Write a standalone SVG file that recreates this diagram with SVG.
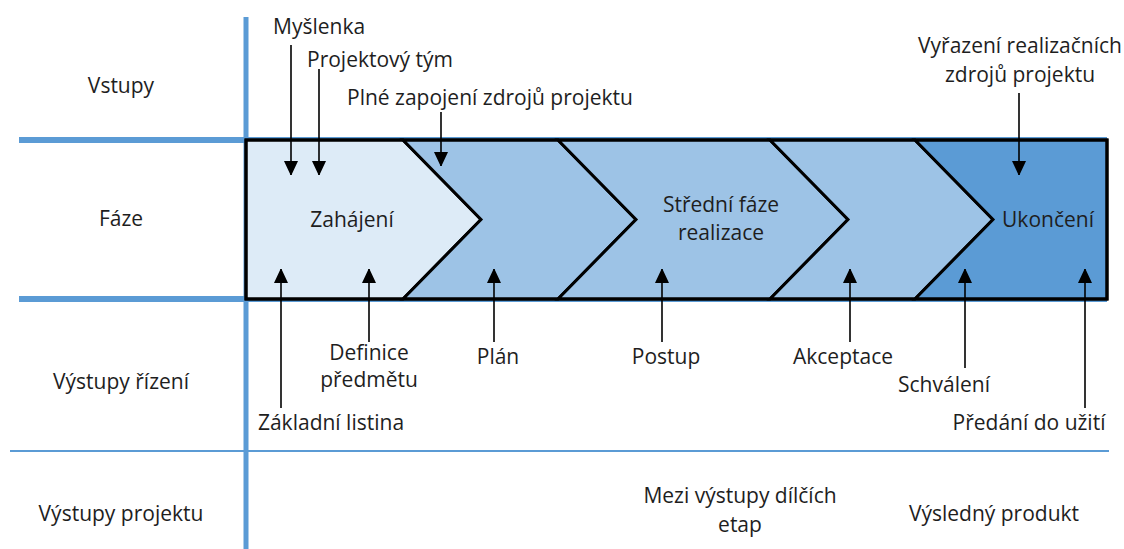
<svg xmlns="http://www.w3.org/2000/svg" width="1124" height="549" viewBox="0 0 1124 549">
  <defs>
    <marker id="arrow" markerUnits="userSpaceOnUse" markerWidth="14" markerHeight="16" viewBox="0 0 14 16" refX="14" refY="7" orient="auto">
      <path d="M0,0 L15,7 L0,14 Z" fill="#000"/>
    </marker>
  </defs>
  <style>
    text { font-family: "Open Sans", "Liberation Sans", sans-serif; font-size: 21px; fill: #1e1e1e; }
    .mid { text-anchor: middle; }
    .grid { stroke: #5b9bd5; fill: none; }
    .phase { stroke: #000; stroke-width: 3; stroke-linejoin: miter; }
    .p1 { fill: #ddebf7; }
    .p2 { fill: #9dc3e6; }
    .p3 { fill: #5b9bd5; }
    .conn { stroke: #000; stroke-width: 1.6; fill: none; }
    .in { marker-end: url(#arrow); }
  </style>

  <!-- table grid -->
  <g id="grid">
    <line class="grid" x1="19" y1="140" x2="1107" y2="140" stroke-width="6"/>
    <line class="grid" x1="19" y1="299" x2="1107" y2="299" stroke-width="6"/>
    <line class="grid" x1="10" y1="451" x2="1109" y2="451" stroke-width="2"/>
    <line class="grid" x1="246" y1="17" x2="246" y2="549" stroke-width="5"/>
  </g>

  <!-- row headers -->
  <g id="rows">
    <text class="mid" x="121" y="93">Vstupy</text>
    <text class="mid" x="121" y="226">Fáze</text>
    <text class="mid" x="121" y="389">Výstupy řízení</text>
    <text class="mid" x="121" y="521">Výstupy projektu</text>
  </g>

  <!-- project phases -->
  <g id="phase-zahajeni">
    <polygon class="phase p1" points="246,140 403,140 481,219.5 403,299 246,299"/>
    <text class="mid" x="352" y="227">Zahájení</text>
  </g>
  <g id="phase-plan">
    <polygon class="phase p2" points="403,140 558,140 636,219.5 558,299 403,299 481,219.5"/>
  </g>
  <g id="phase-stredni">
    <polygon class="phase p2" points="558,140 770,140 848,219.5 770,299 558,299 636,219.5"/>
    <text class="mid" x="721" y="212">Střední fáze</text>
    <text class="mid" x="721" y="240">realizace</text>
  </g>
  <g id="phase-akceptace">
    <polygon class="phase p2" points="770,140 915,140 993,219.5 915,299 770,299 848,219.5"/>
  </g>
  <g id="phase-ukonceni">
    <polygon class="phase p3" points="915,140 1107,140 1107,299 915,299 993,219.5"/>
    <text class="mid" x="1048" y="227">Ukončení</text>
  </g>
  <rect x="246" y="140" width="861" height="159" fill="none" stroke="#000" stroke-width="3"/>

  <!-- inputs -->
  <g id="input-myslenka"><text x="273" y="34">Myšlenka</text></g>
  <g id="input-tym"><text x="307" y="67">Projektový tým</text></g>
  <g id="input-zdroje"><text x="347" y="105">Plné zapojení zdrojů projektu</text></g>
  <g id="input-vyrazeni">
    <text class="mid" x="1020" y="53">Vyřazení realizačních</text>
    <text class="mid" x="1020" y="82">zdrojů projektu</text>
  </g>

  <!-- management outputs -->
  <g id="out-listina"><text class="mid" x="331" y="430">Základní listina</text></g>
  <g id="out-definice">
    <text class="mid" x="369" y="360">Definice</text>
    <text class="mid" x="369" y="387">předmětu</text>
  </g>
  <g id="out-plan"><text class="mid" x="498" y="364">Plán</text></g>
  <g id="out-postup"><text class="mid" x="666" y="364">Postup</text></g>
  <g id="out-akceptace"><text class="mid" x="843" y="364">Akceptace</text></g>
  <g id="out-schvaleni"><text class="mid" x="944" y="392">Schválení</text></g>
  <g id="out-predani"><text class="mid" x="1029" y="430">Předání do užití</text></g>

  <!-- project outputs -->
  <g id="prod-etapy">
    <text class="mid" x="740" y="503">Mezi výstupy dílčích</text>
    <text class="mid" x="740" y="532">etap</text>
  </g>
  <g id="prod-vysledny"><text class="mid" x="994" y="521">Výsledný produkt</text></g>

  <!-- connectors -->
  <g id="connectors">
    <line class="conn in" x1="291" y1="45" x2="291" y2="175"/>
    <line class="conn in" x1="319" y1="69" x2="319" y2="175"/>
    <line class="conn in" x1="441" y1="112" x2="441" y2="166"/>
    <line class="conn in" x1="1019" y1="93" x2="1019" y2="175"/>
    <line class="conn in" x1="281" y1="408" x2="281" y2="269"/>
    <line class="conn in" x1="369" y1="342" x2="369" y2="269"/>
    <line class="conn in" x1="494" y1="342" x2="494" y2="269"/>
    <line class="conn in" x1="662" y1="342" x2="662" y2="269"/>
    <line class="conn in" x1="850" y1="342" x2="850" y2="269"/>
    <line class="conn in" x1="965" y1="368" x2="965" y2="269"/>
    <line class="conn in" x1="1085" y1="408" x2="1085" y2="269"/>
  </g>
</svg>
